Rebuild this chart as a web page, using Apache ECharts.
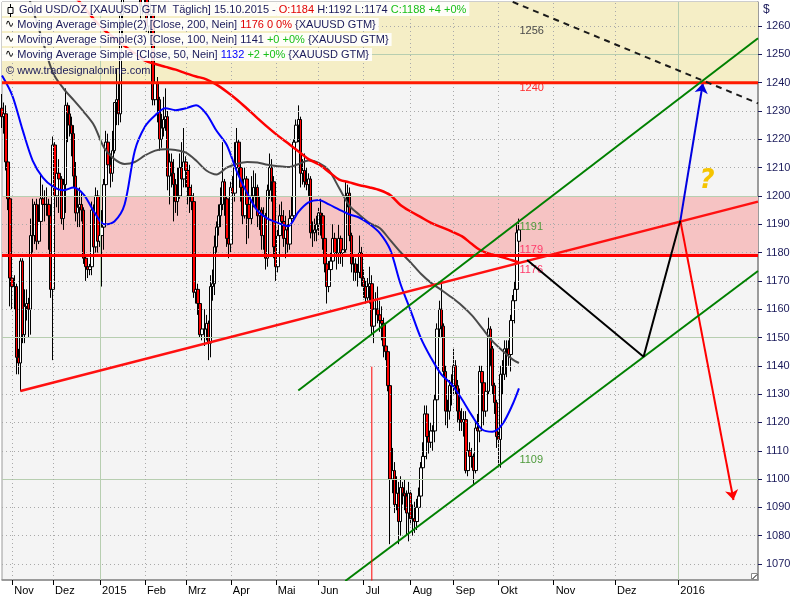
<!DOCTYPE html>
<html><head><meta charset="utf-8">
<script src="https://cdn.jsdelivr.net/npm/echarts@6/dist/echarts.min.js"></script>
<style>html,body{margin:0;padding:0;background:#fff}#c{width:800px;height:600px}</style>
</head><body><div id="c"></div>
<script>
// ---------- DATA ----------
// daily candles [open, high, low, close], trading days from 2014-10-27 to 2015-10-15
const ohlc = [
[1231,1236,1224,1228],[1228,1233,1222,1229],[1229,1232,1209,1212],[1212,1214,1195,1199],[1199,1201,1161,1171],
[1171,1174,1160,1168],[1168,1172,1160,1168],[1168,1169,1137,1143],[1143,1146,1137,1141],[1141,1178,1131,1177],
[1177,1178,1148,1151],[1151,1167,1148,1161],[1161,1167,1156,1162],[1162,1164,1150,1160],[1160,1192,1151,1186],
[1186,1199,1180,1186],[1186,1198,1183,1197],[1197,1199,1181,1184],[1184,1197,1183,1191],[1191,1208,1184,1199],
[1199,1204,1192,1197],[1197,1202,1191,1197],[1197,1203,1193,1197],[1197,1199,1181,1193],[1193,1195,1164,1167],
[1167,1221,1142,1218],[1218,1219,1196,1200],[1200,1211,1196,1208],[1208,1213,1194,1206],[1206,1207,1190,1192],
[1192,1206,1188,1204],[1204,1238,1194,1232],[1232,1233,1219,1229],[1229,1232,1221,1225],[1225,1228,1214,1222],
[1222,1225,1203,1207],[1207,1212,1191,1194],[1194,1202,1189,1196],[1196,1203,1189,1197],[1197,1201,1191,1195],
[1195,1196,1176,1178],[1178,1179,1170,1175],[1175,1178,1171,1174],[1174,1176,1172,1175],[1175,1198,1172,1195],
[1195,1197,1178,1182],[1182,1203,1180,1200],[1200,1202,1180,1184],
[1184,1188,1182,1186],[1186,1195,1168,1189],[1189,1206,1181,1204],[1204,1223,1203,1219],[1219,1222,1206,1211],
[1211,1215,1203,1208],[1208,1223,1205,1216],[1216,1233,1215,1233],[1233,1245,1225,1234],[1234,1240,1225,1229],
[1229,1265,1226,1264],[1264,1282,1256,1277],[1277,1282,1271,1276],[1276,1296,1273,1294],[1294,1299,1283,1294],
[1294,1307,1283,1300],[1300,1305,1288,1293],[1293,1298,1272,1280],[1280,1295,1277,1292],[1292,1305,1281,1284],
[1284,1287,1262,1267],[1267,1283,1264,1279],
[1279,1284,1269,1275],[1275,1277,1258,1260],[1260,1272,1257,1264],[1264,1268,1257,1264],[1264,1266,1232,1234],
[1234,1244,1232,1240],[1240,1242,1226,1234],[1234,1235,1216,1220],[1220,1229,1217,1224],[1224,1235,1221,1227],
[1227,1238,1223,1228],[1228,1230,1202,1207],[1207,1215,1197,1212],[1212,1215,1203,1208],[1208,1213,1191,1204],
[1204,1206,1194,1198],[1198,1210,1193,1200],[1200,1215,1199,1210],[1210,1219,1200,1206],[1206,1224,1203,1212],
[1212,1214,1203,1209],[1209,1212,1197,1203],[1203,1211,1194,1200],[1200,1204,1195,1198],[1198,1201,1164,1166],
[1166,1170,1162,1167],[1167,1169,1158,1162],[1162,1163,1150,1151],[1151,1160,1149,1153],[1153,1160,1147,1153],
[1153,1158,1149,1155],[1155,1156,1142,1148],[1148,1172,1143,1168],[1168,1174,1163,1169],[1169,1186,1165,1182],
[1182,1191,1180,1189],[1189,1197,1186,1193],[1193,1203,1189,1197],[1197,1219,1195,1205],[1205,1206,1193,1199],
[1199,1200,1182,1185],[1185,1188,1178,1183],
[1183,1205,1180,1203],[1203,1207,1196,1201],[1201,1219,1198,1210],[1210,1224,1208,1219],[1219,1220,1207,1210],
[1210,1214,1198,1203],[1203,1205,1190,1193],[1193,1210,1192,1206],[1206,1207,1183,1197],[1197,1200,1185,1192],
[1192,1207,1190,1200],[1200,1209,1196,1203],[1203,1208,1196,1203],[1203,1204,1189,1193],[1193,1200,1188,1195],
[1195,1196,1181,1186],[1186,1196,1181,1193],[1193,1194,1174,1178],[1178,1204,1175,1202],[1202,1215,1199,1210],
[1210,1213,1198,1205],[1205,1207,1178,1182],
[1182,1186,1170,1175],[1175,1188,1173,1186],[1186,1197,1183,1193],[1193,1198,1187,1191],[1191,1195,1182,1185],
[1185,1193,1178,1188],[1188,1190,1180,1183],[1183,1195,1181,1192],[1192,1200,1190,1193],[1193,1220,1191,1219],
[1219,1227,1216,1225],[1225,1232,1219,1227],[1227,1228,1203,1208],[1208,1213,1204,1209],[1209,1215,1203,1205],
[1205,1210,1202,1204],[1204,1208,1200,1206],[1206,1207,1185,1187],[1187,1191,1182,1187],[1187,1192,1184,1188],
[1188,1193,1184,1190],
[1190,1196,1186,1194],[1194,1199,1186,1193],[1193,1194,1181,1185],[1185,1187,1173,1176],[1176,1179,1162,1168],
[1168,1177,1166,1174],[1174,1180,1171,1177],[1177,1190,1175,1185],[1185,1187,1178,1180],[1180,1182,1174,1180],
[1180,1190,1176,1185],[1185,1186,1176,1180],[1180,1185,1175,1181],[1181,1205,1180,1200],[1200,1204,1196,1201],
[1201,1203,1184,1186],[1186,1187,1173,1176],[1176,1179,1170,1176],[1176,1178,1170,1173],[1173,1176,1168,1173],
[1173,1186,1171,1180],[1180,1182,1168,1171],
[1171,1174,1164,1168],[1168,1170,1162,1164],[1164,1171,1163,1168],[1168,1175,1162,1169],[1169,1172,1151,1154],
[1154,1162,1148,1160],[1160,1166,1156,1160],[1160,1168,1155,1158],[1158,1163,1152,1156],[1156,1161,1149,1155],
[1155,1157,1143,1147],[1147,1150,1142,1145],[1145,1146,1131,1133],[1133,1134,1077,1100],[1100,1111,1095,1103],
[1103,1106,1088,1091],[1091,1101,1089,1095],[1095,1099,1077,1085],[1085,1101,1080,1097],[1097,1099,1091,1095],
[1095,1100,1089,1094],[1094,1096,1080,1088],[1088,1099,1078,1095],
[1095,1096,1084,1086],[1086,1091,1080,1086],[1086,1092,1081,1085],[1085,1093,1082,1090],[1090,1097,1085,1094],
[1094,1106,1092,1104],[1104,1113,1100,1108],[1108,1126,1106,1123],[1123,1126,1107,1115],[1115,1119,1109,1113],
[1113,1120,1111,1117],[1117,1119,1110,1117],[1117,1130,1113,1128],[1128,1155,1126,1153],[1153,1163,1150,1160],
[1160,1170,1150,1154],[1154,1155,1136,1138],[1138,1140,1119,1124],[1124,1128,1118,1124],[1124,1135,1121,1133],
[1133,1137,1126,1133],
[1133,1146,1130,1140],[1140,1142,1130,1133],[1133,1135,1120,1124],[1124,1132,1117,1121],[1121,1125,1117,1120],
[1120,1124,1115,1121],[1121,1124,1102,1103],[1103,1112,1101,1110],[1110,1113,1103,1108],[1108,1111,1104,1108],
[1108,1109,1098,1103],[1103,1120,1102,1118],[1118,1123,1115,1117],[1117,1140,1113,1138],[1138,1140,1130,1134],
[1134,1135,1119,1124],[1124,1134,1122,1131],[1131,1157,1130,1153],[1153,1154,1140,1146],[1146,1147,1130,1133],
[1133,1134,1123,1127],[1127,1128,1111,1115],
[1115,1117,1105,1114],[1114,1140,1104,1137],[1137,1142,1130,1137],[1137,1149,1135,1146],[1146,1149,1136,1146],
[1146,1149,1140,1144],[1144,1158,1138,1156],[1156,1165,1154,1163],[1163,1170,1155,1167],[1167,1190,1163,1187],
[1184,1192,1174,1188]
];
// moving averages, one value every 5 trading days, plus the last day
const ma50From = 0,  ma50  = [1242.5,1235.5,1223.5,1212.5,1206.5,1203.3,1202,1203,1200.5,1194.5,1190,1191,1197,1216,1224.5,1228.5,1231,1230.3,1231,1232,1229,1223,1218,1208.5,1201,1194.8,1192,1190.5,1189.3,1194.3,1197.7,1198.6,1197,1195.2,1193.5,1192.3,1190,1186.8,1181,1169,1159.5,1149.8,1142.8,1137,1133.5,1128.3,1122.4,1117.5,1116.7,1119.5,1126.5];
const ma50Last = 1132;
const ma100From = 10, ma100 = [1277,1266,1254.5,1243.4,1238,1233.9,1229.7,1225,1217,1213,1211.3,1212,1214.3,1216,1216.5,1216.2,1215.3,1212.5,1209,1207.6,1210,1211.3,1212,1211.8,1211,1210.5,1210.2,1211.2,1212.5,1211.7,1209,1202.8,1196.6,1193.3,1190.4,1188.6,1184.4,1180.2,1176.5,1172.5,1169.3,1166.8,1164.2,1161.3,1157.8,1153.3,1148.7,1145.3,1142.2];
const ma100Last = 1141;
const ma200From = 35, ma200 = [1271,1266.8,1262.4,1258.6,1255.8,1253,1250.3,1247.8,1246.6,1245.6,1244.6,1243.3,1242.2,1241.2,1239.3,1236.8,1234,1230.8,1227.5,1224.3,1221.3,1218.6,1215.8,1213,1211.2,1208.5,1205.8,1204.8,1203.8,1203,1202,1200.3,1196.8,1194.5,1192.5,1190.5,1189,1187.5,1185.8,1183,1180.5,1179.3,1178.3,1177.2];
const ma200Last = 1176.5;
// price axis ticks
const yTicks = [1070,1080,1090,1100,1110,1120,1130,1140,1150,1160,1170,1180,1190,1200,1210,1220,1230,1240,1250,1260];
const monthNames = ['2015','Feb','Mrz','Apr','Mai','Jun','Jul','Aug','Sep','Okt','Nov','Dez'];
// drawn annotations (date, price)
const levels = [1240, 1179];
const yellowZone = [1240, 1268.5];
const pinkZone = [1179, 1200];
const supportLine = [['2014-11-07',1131.1],['2016-02-09',1198.0]];
const channelUpper = [['2015-05-18',1131.3],['2016-02-09',1255.7]];
const channelLower = [['2015-06-18',1064.0],['2016-02-09',1173.5]];
const dashedLine  = [['2015-09-28',1271.5],['2016-02-09',1232.7]];
const scenarioPath = [['2015-10-19',1177.4],['2015-12-15',1143.2],['2016-01-02',1191.3]];
const arrowUp   = [['2016-01-02',1191.3],['2016-01-13',1239.8]];
const arrowDown = [['2016-01-02',1191.3],['2016-01-28',1092.6]];
const julyMarker = [['2015-07-07',1139.7],['2015-07-07',1060]];
const tagTexts  = ['1256','1240','1191','1179','1176','1109'];
const tagLevels = [1258.4,1238.1,1188.9,1180.9,1173.9,1106.6];
const tagDate = '2015-10-15';
const questionMark = ['2016-01-15', 1205.3];

// ---------- BUILD ----------
function fmt(d){return d.toISOString().slice(0,10);}
const cats = [];
(function(){
  let t = Date.UTC(2014,9,27);
  const lastTrade = Date.UTC(2015,9,15), end = Date.UTC(2016,1,9);
  while (t <= end) {
    const d = new Date(t), dow = d.getUTCDay();
    if (t > lastTrade || (dow !== 0 && dow !== 6)) cats.push(fmt(d));
    t += 86400000;
  }
})();
const monthStart = new Set();
for (let i = 1; i < cats.length; i++) {
  if (cats[i].slice(5,7) !== cats[i-1].slice(5,7) && cats[i] < '2016-02-01') monthStart.add(i);
}
const isMonth = (i) => monthStart.has(i);
const candleData = ohlc.map(r => [r[0], r[3], r[2], r[1]]);
function maSeries(vals, from, last) {
  const arr = new Array(ohlc.length).fill(null);
  vals.forEach((v,k) => { arr[from + 5*k] = v; });
  arr[ohlc.length-1] = last;
  return arr;
}
const FONT = 'Liberation Sans';
const navy = '#1a1a5a';

const gridLines = [];
yTicks.forEach(v => gridLines.push({yAxis: v, lineStyle: v % 50 === 0 ? {color:'#b7ceb0', type:'solid', width:1} : {color:'#a9a9a9', type:[1,3], width:1}}));
monthStart.forEach(i => gridLines.push({xAxis: cats[i], lineStyle: cats[i].slice(5,7)==='01' ? {color:'#b7ceb0', type:'solid', width:1} : {color:'#a9a9a9', type:[1,3], width:1}}));

function lineSeries(data, color, width, extra) {
  return Object.assign({type:'line', data: data, symbol:'none', showSymbol:false, silent:true, animation:false, clip:true,
    lineStyle:{color:color, width:width}, z:5}, extra||{});
}

const base = {fontSize:11, fontFamily:FONT, fontWeight:'normal'};
const rich = {
  n:Object.assign({color:navy}, base),
  r:Object.assign({color:'#e00000'}, base),
  g:Object.assign({color:'#18c018'}, base),
  b:Object.assign({color:'#0000ff'}, base),
  w:{color:'#000', fontSize:11, fontFamily:'DejaVu Sans', fontWeight:'normal'}
};
const tStyle = Object.assign({color:navy, rich:rich}, base);
const boxBg = 'rgba(255,255,255,0.88)';

const option = {
  animation:false,
  backgroundColor:'#ffffff',
  title:[
    {left:2, top:2, padding:[2,3,1,17], backgroundColor:boxBg, text:'{n|Gold USD/OZ [XAUUSD GTM  Täglich] 15.10.2015 - }{r|O:1184}{n| H:1192 L:1174 }{g|C:1188 +4 +0%}', textStyle:tStyle},
    {left:2, top:18, padding:[1,3,1,3], backgroundColor:boxBg, text:'{w|∿}{n| Moving Average Simple(2) [Close, 200, Nein] }{r|1176 0 0%} {XAUUSD GTM}', textStyle:tStyle},
    {left:2, top:33, padding:[1,3,1,3], backgroundColor:boxBg, text:'{w|∿}{n| Moving Average Simple(3) [Close, 100, Nein] 1141 }{g|+0 +0%} {XAUUSD GTM}', textStyle:tStyle},
    {left:2, top:48, padding:[1,3,1,3], backgroundColor:boxBg, text:'{w|∿}{n| Moving Average Simple [Close, 50, Nein] }{b|1132}{n| }{g|+2 +0%} {XAUUSD GTM}', textStyle:tStyle},
    {left:2, top:64, padding:[1,3,1,4], text:'{n|© www.tradesignalonline.com}', textStyle:tStyle}
  ],
  graphic:[
    {type:'line', shape:{x1:10.5,y1:4,x2:10.5,y2:17}, style:{stroke:'#000', lineWidth:1}, z:100},
    {type:'rect', shape:{x:8,y:7.5,width:5,height:6}, style:{fill:'#fff', stroke:'#000', lineWidth:1}, z:101},
    {type:'text', x:763, y:4, style:{text:'$', font:'12px "Liberation Sans"', fill:navy}},
    {type:'rect', shape:{x:751.5,y:573.5,width:6,height:6}, style:{fill:'#fff', stroke:'#888', lineWidth:1}, z:100},
    {type:'line', shape:{x1:752.5,y1:579,x2:757,y2:574.5}, style:{stroke:'#000', lineWidth:1}, z:101}
  ],
  grid:{left:2, right:42, top:2, bottom:20, show:true, backgroundColor:'#f4f4f4', borderColor:'#9a9a9a', borderWidth:1},
  xAxis:{
    type:'category', data:cats, boundaryGap:false,
    axisLine:{show:true, onZero:false, lineStyle:{color:'#8c8c8c', width:1.5}},
    axisTick:{show:true, interval:(i)=>isMonth(i), length:5, lineStyle:{color:'#000'}},
    axisLabel:{interval:(i)=>isMonth(i), align:'left', padding:[0,0,0,2], margin:5, color:'#000', fontSize:11, fontFamily:FONT,
      formatter:(v)=>{ const m = +v.slice(5,7); return m===1 ? v.slice(0,4) : monthNames[m-1]; }},
    splitLine:{show:false}
  },
  yAxis:{
    type:'value', position:'right', min:1064.35, max:1268.5,
    axisLine:{show:true, lineStyle:{color:'#8c8c8c', width:1.5}},
    axisTick:{show:true, customValues:yTicks, length:4, lineStyle:{color:navy}},
    axisLabel:{customValues:yTicks, color:navy, fontSize:11, fontFamily:FONT, margin:8, formatter:(v)=>String(Math.round(v))},
    splitLine:{show:false}
  },
  series:[
    {type:'line', data:[], silent:true, z:1,
      markArea:{silent:true, data:[
        [{yAxis:yellowZone[0], itemStyle:{color:'#f5eec6'}},{yAxis:yellowZone[1]}],
        [{yAxis:pinkZone[0], itemStyle:{color:'#f6c3c3'}},{yAxis:pinkZone[1]}]
      ]}},
    {type:'line', data:[], silent:true, z:2,
      markLine:{silent:true, symbol:['none','none'], label:{show:false}, data:gridLines}},
    {type:'candlestick', data:candleData, barWidth:3, z:3, silent:true,
      itemStyle:{color:'#ffffff', color0:'#ff0000', borderColor:'#000', borderColor0:'#000', borderWidth:1}},
    lineSeries(maSeries(ma100, ma100From, ma100Last), '#4a4a4a', 2, {connectNulls:true, smooth:0.3, z:4}),
    lineSeries(maSeries(ma50, ma50From, ma50Last), '#0000ff', 2, {connectNulls:true, smooth:0.3, z:4}),
    lineSeries(maSeries(ma200, ma200From, ma200Last), '#ff0000', 2.5, {connectNulls:true, smooth:0.3, z:4}),
    lineSeries([[cats[0], levels[0]],[cats[cats.length-1], levels[0]]], '#ff1a00', 3),
    lineSeries([[cats[0], levels[1]],[cats[cats.length-1], levels[1]]], '#ff0000', 3),
    lineSeries(supportLine, '#ff1010', 2.5),
    lineSeries(channelUpper, '#008000', 2),
    lineSeries(channelLower, '#008000', 2),
    lineSeries(dashedLine, '#1a1a1a', 2, {lineStyle:{color:'#1a1a1a', width:2, type:[6,5]}}),
    lineSeries(scenarioPath, '#000000', 2),
    lineSeries(julyMarker, '#ff0000', 1),
    {type:'line', data:[], silent:true, z:6,
      markLine:{silent:true, symbol:['none','arrow'], symbolSize:10, label:{show:false}, data:[
        [{coord:arrowUp[0], lineStyle:{color:'#0000e0', width:2, type:'solid'}},{coord:arrowUp[1]}],
        [{coord:arrowDown[0], lineStyle:{color:'#ff0000', width:2, type:'solid'}},{coord:arrowDown[1]}]
      ]},
      markPoint:{silent:true, symbol:'circle', symbolSize:1, itemStyle:{color:'rgba(0,0,0,0)'}, data:
        tagTexts.map((t,k)=>({coord:[tagDate, tagLevels[k]], label:{show:true, position:'right', distance:0, formatter:t, fontSize:11, fontFamily:FONT,
          color:['#4a4a4a','#ff2a2a','#4d9a3a','#ff3a6a','#ff3a6a','#4d9a3a'][k]}}))
        .concat([{coord:questionMark, label:{show:true, position:'inside', formatter:'?', fontSize:26, fontStyle:'italic', fontWeight:'bold', fontFamily:'DejaVu Sans', color:'#f5c400'}}])
      }}
  ]
};
const chart = echarts.init(document.getElementById('c'), null, {renderer:'canvas'});
chart.setOption(option);
</script></body></html>
